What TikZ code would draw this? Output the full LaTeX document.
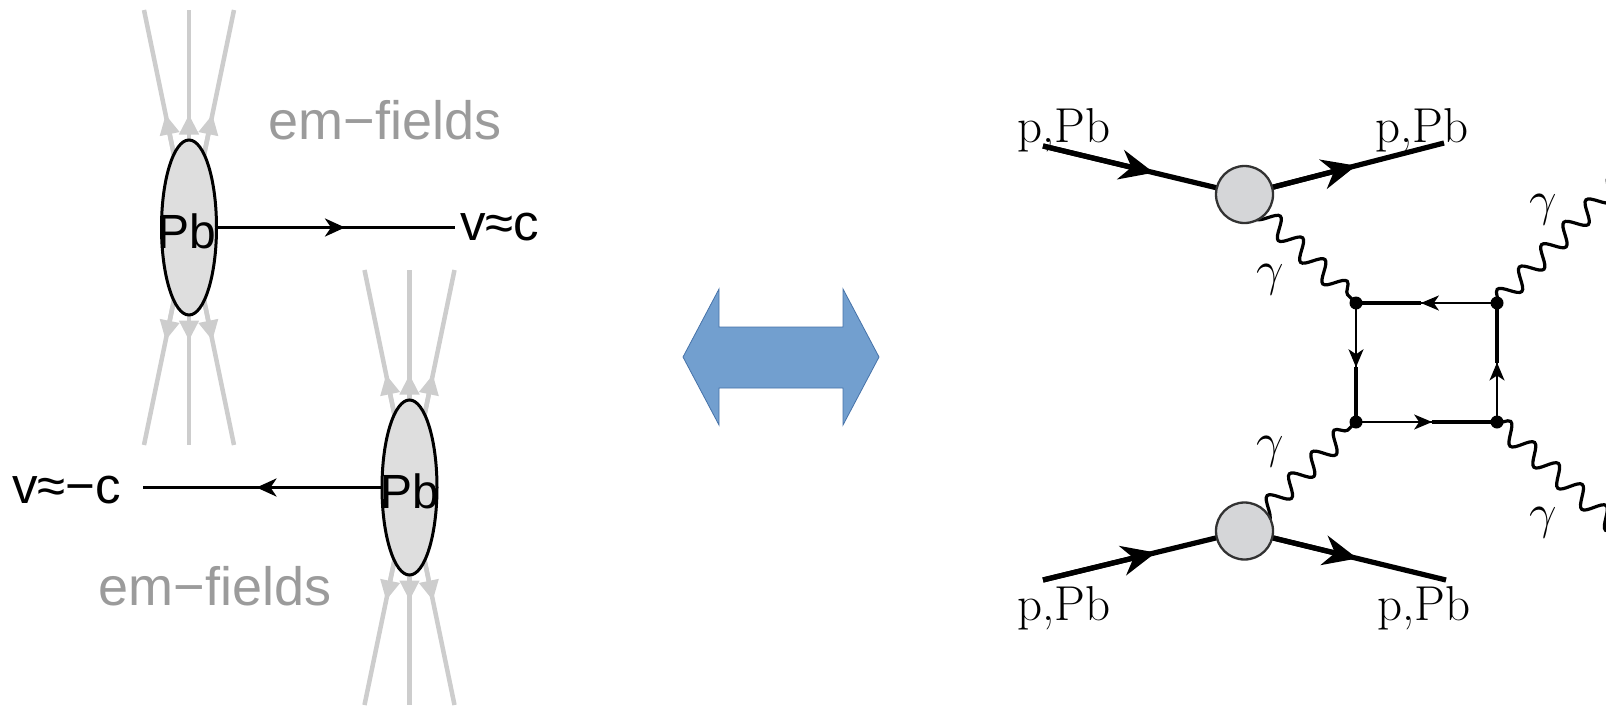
\RequirePackage{fix-cm}
\documentclass[tikz,border=0pt]{standalone}
\usepackage{fontspec}
\newfontfamily\helv{Liberation Sans}
\usetikzlibrary{arrows.meta,shapes.geometric,calc,decorations.pathmorphing}
\pgfdeclarelayer{back}
\pgfsetlayers{back,main}

\definecolor{fieldgray}{RGB}{205,205,205}
\definecolor{labelgray}{RGB}{155,155,155}
\definecolor{ionfill}{RGB}{222,222,222}
\definecolor{blobfill}{RGB}{213,214,216}
\definecolor{blobedge}{RGB}{50,50,50}
\definecolor{arrowfill}{RGB}{114,159,207}
\definecolor{arrowedge}{RGB}{70,114,168}

\begin{document}
\begin{tikzpicture}[x=1pt,y=-1pt,
  fieldline/.style={draw=fieldgray,line width=4.5pt},
  fieldtip/.style={-{Triangle[length=20pt,width=19pt]}},
  ion/.style={ellipse,draw=black,line width=3pt,fill=ionfill,
    minimum width=55pt,minimum height=175pt,inner sep=0pt},
  iontext/.style={font=\helv\fontsize{48}{52}\selectfont,inner sep=0pt,anchor=base},
  veltext/.style={font=\helv\fontsize{51}{55}\selectfont,inner sep=0pt,anchor=base west},
  emtext/.style={font=\helv\fontsize{54}{58}\selectfont,text=labelgray,inner sep=0pt,anchor=base},
  velocity/.style={draw=black,line width=3.3pt},
  veltip/.style={-{Stealth[length=20pt,width=18pt,inset=6pt]}},
  blob/.style={circle,draw=blobedge,line width=2.3pt,fill=blobfill,minimum size=57pt,inner sep=0pt},
  vtx/.style={circle,fill=black,minimum size=13pt,inner sep=0pt},
  fermion/.style={draw=black,line width=5.2pt},
  ftip/.style={-{Stealth[length=34pt,width=30pt,inset=11pt]}},
  loopthin/.style={draw=black,line width=1.8pt},
  loopthick/.style={draw=black,line width=3.6pt},
  looptip/.style={-{Stealth[length=18pt,width=15pt,inset=5pt]}},
  photon/.style={decorate,decoration={snake,amplitude=9.5pt,segment length=#1},line width=3.2pt},
  lmtext/.style={font=\fontsize{49}{55}\selectfont,inner sep=0pt},
]
\useasboundingbox (0,0) rectangle (1606,707);

% ---------- two Pb ions with their field lines ----------
\node[ion] (pbA) at (189,227.5) {};
\node[ion] (pbB) at (409.5,487.5) {};
\node[iontext] (pbAt) at (187,248) {Pb};
\node[iontext] (pbBt) at (409.5,508) {Pb};

\begin{pgfonlayer}{back}
  \foreach \ion in {pbA,pbB}{
    \foreach \dx in {-45,0,45}{
      \draw[fieldline] (\ion.center) -- ++(\dx,-217.5);
      \draw[fieldline] (\ion.center) -- ++(\dx,217.5);
      \draw[fieldline,fieldtip] (\ion.center) -- ++(0.52*\dx,-113);
      \draw[fieldline,fieldtip] (\ion.center) -- ++(0.52*\dx,113);
    }
  }
\end{pgfonlayer}

% velocities
\node[veltext] (vA) at (460,240) {v≈c};
\draw[velocity,shorten >=5pt] (pbA.east) -- (pbA.east -| vA.west);
\draw[velocity,veltip] (pbA.east) -- ++(127,0);

\node[veltext] (vB) at (12,503) {v≈−c};
\draw[velocity,shorten >=22pt] (pbB.west) -- (pbB.west -| vB.east);
\draw[velocity,veltip] (pbB.west) -- ++(-124,0);

\node[emtext] (emA) at (385,139) {em−fields};
\node[emtext] (emB) at (215,605) {em−fields};

% ---------- double arrow ----------
\filldraw[fill=arrowfill,draw=arrowedge,line width=0.8pt]
  (683,357) -- (719,289) -- (719,327) -- (843,327) -- (843,289) -- (879,357)
  -- (843,425) -- (843,388) -- (719,388) -- (719,425) -- cycle;

% ---------- light-by-light scattering diagram ----------
\node[blob] (tb) at (1244.5,194.5) {};
\node[blob] (bb) at (1244.5,531) {};
\coordinate (inA) at (1043,146);
\coordinate (outA) at (1444,143);
\coordinate (inB) at (1043,580);
\coordinate (outB) at (1446,580);
\node[vtx] (v1) at (1356,303) {};
\node[vtx] (v2) at (1497,303) {};
\node[vtx] (v3) at (1356,422) {};
\node[vtx] (v4) at (1497,422) {};
\coordinate (gTR) at (1630,169);
\coordinate (gBR) at (1640,548);

\begin{pgfonlayer}{back}
  % incoming and outgoing nuclei
  \draw[fermion] (inA) -- (tb.center);
  \draw[fermion,ftip] (inA) -- ($(inA)!0.55!(tb.center)$);
  \draw[fermion] (tb.center) -- (outA);
  \draw[fermion,ftip] (tb.center) -- ($(tb.center)!0.56!(outA)$);
  \draw[fermion] (inB) -- (bb.center);
  \draw[fermion,ftip] (inB) -- ($(inB)!0.56!(bb.center)$);
  \draw[fermion] (bb.center) -- (outB);
  \draw[fermion,ftip] (bb.center) -- ($(bb.center)!0.56!(outB)$);

  % photons
  \draw[photon=31.1pt] (tb.center) -- (v1.center);
  \draw[photon=31.2pt] (bb.center) -- (v3.center);
  \begin{scope}
    \clip (0,0) rectangle (1606,707);
    \draw[photon=31.5pt] (v2.center) -- (gTR);
    \draw[photon=31.8pt] (v4.center) -- (gBR);
  \end{scope}

  % fermion box
  \draw[loopthin] (v2.center) -- (v1.center);
  \draw[loopthick] ($(v2)!0.54!(v1)$) -- (v1.center);
  \draw[loopthin,looptip] (v2.center) -- ($(v2)!0.54!(v1)$);

  \draw[loopthin] (v1.center) -- (v3.center);
  \draw[loopthick] ($(v1)!0.54!(v3)$) -- (v3.center);
  \draw[loopthin,looptip] (v1.center) -- ($(v1)!0.54!(v3)$);

  \draw[loopthin] (v3.center) -- (v4.center);
  \draw[loopthick] ($(v3)!0.54!(v4)$) -- (v4.center);
  \draw[loopthin,looptip] (v3.center) -- ($(v3)!0.54!(v4)$);

  \draw[loopthin] (v4.center) -- (v2.center);
  \draw[loopthick] ($(v4)!0.5!(v2)$) -- (v2.center);
  \draw[loopthin,looptip] (v4.center) -- ($(v4)!0.5!(v2)$);
\end{pgfonlayer}

% labels
\node[lmtext,anchor=base] (lA) at (1064,142) {p,Pb};
\node[lmtext,anchor=base] (lB) at (1422,142) {p,Pb};
\node[lmtext,anchor=base] (lC) at (1064,620) {p,Pb};
\node[lmtext,anchor=base] (lD) at (1424,620) {p,Pb};
\node[lmtext] (gA) at (1270,280) {$\gamma$};
\node[lmtext] (gB) at (1543,210) {$\gamma$};
\node[lmtext] (gC) at (1270,452) {$\gamma$};
\node[lmtext] (gD) at (1543,523) {$\gamma$};
\end{tikzpicture}
\end{document}
